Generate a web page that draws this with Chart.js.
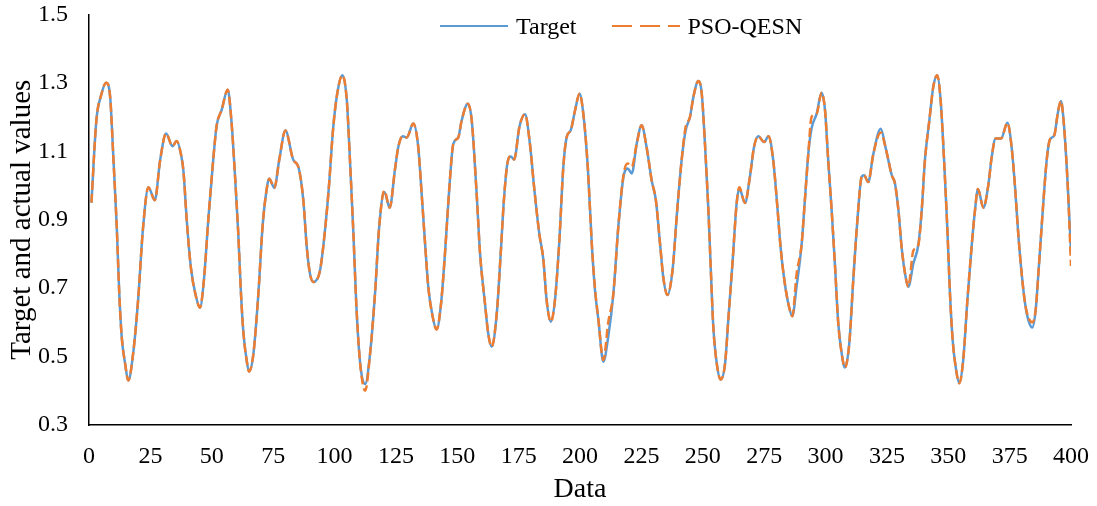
<!DOCTYPE html>
<html>
<head>
<meta charset="utf-8">
<script src="https://cdn.jsdelivr.net/npm/chart.js@4.4.1/dist/chart.umd.min.js"></script>
<style>
  html, body { margin: 0; padding: 0; background: #fff; }
  #wrap { position: relative; width: 1097px; height: 506px; }
  #legend {
    position: absolute; left: 440px; top: 14px;
    display: flex; align-items: center;
    font-family: 'Liberation Serif', 'Times New Roman', serif;
    font-size: 24px; line-height: 24px; color: #000;
  }
  #legend .item { display: flex; align-items: center; margin-right: 35px; }
  #legend .swatch { width: 68px; height: 2.5px; margin-right: 8px; }
</style>
</head>
<body>
<div id="wrap">
  <canvas id="chart" width="1097" height="506"></canvas>
  <div id="legend"></div>
</div>
<script>
// sample positions (x = data index)
const dataX = [
  1, 3, 5, 7, 8.6, 10, 11.3, 12.3, 13.3, 14.7, 16, 18, 20, 22, 24.2, 26.8, 29, 31.4, 34, 35.7,
  37.5, 38.5, 39.8, 41.5, 43.6, 45.2, 46.8, 48.6, 50.6, 52, 54, 56.5, 58, 59.5, 60.8, 61.9, 62.9, 64.2, 65.2, 67,
  69, 70.7, 72.1, 73.4, 75.5, 77.5, 80, 83.2, 85.3, 87.3, 88.7, 90, 91.4, 94, 95.4, 97.5, 99.5, 101.1, 103.2, 105,
  106.3, 107.7, 108.8, 110.1, 111.5, 112.5, 114.5, 116.5, 118.2, 120.3, 122.5, 124.6, 126, 127.8, 129.4, 132.1, 134.1, 135.5, 136.9, 138.2,
  140, 141.6, 143.4, 145, 146.8, 148.4, 150.4, 151.8, 154.3, 155.9, 157.9, 159.3, 161.3, 162.6, 164, 166.1, 167.7, 169, 170.4, 171.8,
  173.2, 175.3, 177.6, 179.6, 181.3, 183.4, 185.1, 186.4, 188.1, 189.8, 191.6, 193.2, 194.6, 196.2, 198, 199.8, 201.5, 203.2, 204.8, 206.1,
  207.5, 209.5, 211.5, 213.6, 215.6, 217.7, 219.4, 221.1, 223.1, 225.1, 227.1, 229.2, 230.9, 232.6, 233.9, 235.6, 237.7, 239.6, 241.4, 243,
  244.8, 246.2, 248.2, 249.6, 250.9, 252.3, 253.4, 254.3, 255.7, 257.3, 259.1, 260.4, 262.2, 263.8, 264.9, 267.2, 269.2, 270.9, 272.6, 275,
  276.8, 278.7, 280.4, 281.7, 283.3, 285, 286.5, 288.2, 290.3, 291.6, 293, 294.3, 296.4, 298.4, 299.8, 301.1, 302.5, 303.9, 305.2, 306.6,
  307.9, 309.7, 311.3, 313, 314.7, 315.7, 317.4, 319.5, 322.5, 324.5, 327, 328.3, 329.7, 331, 332.4, 333.7, 335.8, 337.8, 339.2, 340.5,
  342.3, 343.9, 345.5, 346.9, 348.3, 349.6, 350.7, 351.8, 353.2, 354.5, 356.1, 357.8, 359.5, 360.9, 362.1, 364.3, 366.3, 367.7, 369.3, 371.5,
  374.1, 375.8, 377.2, 378.5, 379.9, 381.3, 382.6, 384.2, 385.6, 386.9, 388.7, 390.1, 391.4, 393.2, 394.6, 395.9, 397.2, 398.7, 400
];

const targetValues = [
  0.95, 1.19, 1.265, 1.30, 1.26, 1.07, 0.88, 0.69, 0.56, 0.48, 0.43, 0.51, 0.665, 0.875, 0.995, 0.957, 1.075, 1.152, 1.115, 1.13,
  1.09, 1.04, 0.90, 0.76, 0.675, 0.643, 0.723, 0.90, 1.075, 1.175, 1.22, 1.28, 1.19, 1.025, 0.86, 0.685, 0.57, 0.49, 0.456, 0.51,
  0.685, 0.88, 0.975, 1.02, 0.993, 1.075, 1.161, 1.075, 1.054, 0.957, 0.82, 0.743, 0.718, 0.748, 0.82, 0.976, 1.171, 1.268, 1.322, 1.25,
  1.074, 0.86, 0.665, 0.509, 0.43, 0.42, 0.509, 0.684, 0.879, 0.981, 0.935, 1.045, 1.113, 1.144, 1.14, 1.181, 1.113, 0.976, 0.83, 0.704,
  0.616, 0.579, 0.655, 0.801, 0.996, 1.122, 1.14, 1.19, 1.239, 1.19, 0.976, 0.80, 0.655, 0.568, 0.529, 0.626, 0.801, 0.957, 1.064, 1.085,
  1.076, 1.171, 1.208, 1.122, 0.996, 0.86, 0.782, 0.665, 0.602, 0.665, 0.84, 1.054, 1.142, 1.161, 1.22, 1.268, 1.20, 1.05, 0.83, 0.694,
  0.607, 0.485, 0.558, 0.684, 0.879, 1.025, 1.05, 1.035, 1.122, 1.176, 1.113, 1.015, 0.957, 0.83, 0.733, 0.68, 0.753, 0.928, 1.074, 1.16,
  1.20, 1.259, 1.305, 1.268, 1.122, 0.928, 0.733, 0.587, 0.48, 0.433, 0.48, 0.607, 0.782, 0.947, 0.991, 0.949, 1.025, 1.113, 1.144, 1.127,
  1.144, 1.074, 0.937, 0.82, 0.72, 0.65, 0.618, 0.704, 0.83, 0.957, 1.093, 1.166, 1.21, 1.271, 1.22, 1.074, 0.928, 0.762, 0.597, 0.509,
  0.468, 0.539, 0.723, 0.899, 1.025, 1.03, 1.01, 1.093, 1.166, 1.11, 1.03, 1.006, 0.928, 0.82, 0.743, 0.704, 0.772, 0.826, 0.928, 1.074,
  1.19, 1.288, 1.322, 1.249, 1.074, 0.879, 0.684, 0.548, 0.461, 0.422, 0.49, 0.665, 0.82, 0.928, 0.99, 0.935, 1.0, 1.083, 1.137, 1.137,
  1.183, 1.113, 0.996, 0.86, 0.743, 0.655, 0.607, 0.585, 0.636, 0.762, 0.947, 1.074, 1.134, 1.147, 1.21, 1.247, 1.171, 0.996, 0.805
];

const psoValues = [
  0.95, 1.19, 1.265, 1.30, 1.26, 1.07, 0.88, 0.69, 0.56, 0.48, 0.43, 0.51, 0.665, 0.875, 0.995, 0.957, 1.075, 1.152, 1.115, 1.13,
  1.09, 1.04, 0.90, 0.76, 0.675, 0.643, 0.723, 0.90, 1.075, 1.175, 1.22, 1.28, 1.19, 1.025, 0.86, 0.685, 0.57, 0.49, 0.456, 0.51,
  0.685, 0.88, 0.975, 1.02, 0.993, 1.075, 1.161, 1.075, 1.054, 0.957, 0.82, 0.743, 0.718, 0.748, 0.82, 0.976, 1.171, 1.268, 1.322, 1.25,
  1.074, 0.86, 0.665, 0.509, 0.42, 0.40, 0.509, 0.684, 0.879, 0.985, 0.935, 1.045, 1.113, 1.144, 1.14, 1.181, 1.113, 0.976, 0.83, 0.704,
  0.616, 0.579, 0.655, 0.801, 0.996, 1.122, 1.14, 1.19, 1.239, 1.19, 0.976, 0.80, 0.655, 0.568, 0.529, 0.626, 0.801, 0.957, 1.064, 1.085,
  1.076, 1.171, 1.208, 1.122, 0.996, 0.86, 0.782, 0.665, 0.602, 0.665, 0.84, 1.054, 1.142, 1.161, 1.22, 1.268, 1.20, 1.05, 0.83, 0.70,
  0.607, 0.49, 0.60, 0.684, 0.879, 1.03, 1.064, 1.055, 1.122, 1.176, 1.113, 1.015, 0.957, 0.83, 0.733, 0.68, 0.753, 0.928, 1.074, 1.17,
  1.20, 1.259, 1.305, 1.268, 1.122, 0.928, 0.733, 0.587, 0.48, 0.433, 0.48, 0.607, 0.782, 0.947, 0.995, 0.949, 1.025, 1.113, 1.144, 1.127,
  1.144, 1.074, 0.937, 0.82, 0.72, 0.65, 0.618, 0.74, 0.83, 0.957, 1.093, 1.20, 1.21, 1.271, 1.22, 1.074, 0.928, 0.762, 0.597, 0.509,
  0.468, 0.539, 0.723, 0.899, 1.025, 1.03, 1.01, 1.093, 1.155, 1.11, 1.03, 1.006, 0.928, 0.82, 0.743, 0.704, 0.81, 0.826, 0.928, 1.074,
  1.19, 1.288, 1.322, 1.249, 1.074, 0.879, 0.684, 0.548, 0.461, 0.422, 0.49, 0.665, 0.82, 0.928, 0.99, 0.935, 1.0, 1.083, 1.137, 1.137,
  1.183, 1.113, 0.996, 0.86, 0.743, 0.655, 0.615, 0.60, 0.636, 0.762, 0.947, 1.074, 1.134, 1.147, 1.21, 1.247, 1.171, 0.996, 0.765
];

const xTicks = [0, 25, 50, 75, 100, 125, 150, 175, 200, 225, 250, 275, 300, 325, 350, 375, 400];
const yTicks = [0.3, 0.5, 0.7, 0.9, 1.1, 1.3, 1.5];

const seriesNames = ["Target", "PSO-QESN"];

function toPoints(values) {
  return values.map((v, i) => ({ x: dataX[i], y: v }));
}

// html legend placed inside the plot area, like the Excel original
const htmlLegend = {
  id: "htmlLegend",
  afterUpdate(chart) {
    const box = document.getElementById("legend");
    box.innerHTML = "";
    chart.data.datasets.forEach(ds => {
      const item = document.createElement("div");
      item.className = "item";
      const swatch = document.createElement("span");
      swatch.className = "swatch";
      if (ds.borderDash) {
        swatch.style.background = "repeating-linear-gradient(to right, " + ds.borderColor +
          " 0 20px, transparent 20px 28px)";
      } else {
        swatch.style.background = ds.borderColor;
      }
      const label = document.createElement("span");
      label.textContent = ds.label;
      item.appendChild(swatch);
      item.appendChild(label);
      box.appendChild(item);
    });
  }
};

const serif = "'Liberation Serif', 'Times New Roman', serif";

new Chart(document.getElementById("chart").getContext("2d"), {
  type: "line",
  data: {
    datasets: [
      {
        label: seriesNames[0],
        data: toPoints(targetValues),
        borderColor: "#5B9BD5",
        backgroundColor: "#5B9BD5",
        borderWidth: 2.5,
        pointRadius: 0,
        cubicInterpolationMode: "monotone",
        fill: false,
        order: 1
      },
      {
        label: seriesNames[1],
        data: toPoints(psoValues),
        borderColor: "#ED7D31",
        backgroundColor: "#ED7D31",
        borderWidth: 2.5,
        borderDash: [9, 4],
        pointRadius: 0,
        cubicInterpolationMode: "monotone",
        fill: false,
        order: 0
      }
    ]
  },
  options: {
    responsive: false,
    animation: false,
    layout: { padding: { top: 14, right: 26, bottom: 0, left: 0 } },
    plugins: {
      tooltip: { enabled: false },
      legend: { display: false }
    },
    scales: {
      x: {
        type: "linear",
        min: 0,
        max: 400,
        afterFit: (s) => { s.height = 81; },
        afterBuildTicks: (s) => { s.ticks = xTicks.map(v => ({ value: v })); },
        grid: { display: false, drawTicks: true, tickLength: 17 },
        border: { display: true, color: "#000", width: 1.5 },
        ticks: {
          color: "#000",
          padding: 0,
          maxRotation: 0,
          autoSkip: false,
          font: { family: serif, size: 24 },
          callback: (v) => String(v)
        },
        title: {
          display: true,
          text: "Data",
          color: "#000",
          padding: { top: 0, bottom: 0 },
          font: { family: serif, size: 28 }
        }
      },
      y: {
        min: 0.3,
        max: 1.5,
        afterFit: (s) => { s.width = 89; },
        afterBuildTicks: (s) => { s.ticks = yTicks.map(v => ({ value: v })); },
        grid: { display: false, drawTicks: true, tickLength: 21 },
        border: { display: true, color: "#000", width: 1.5 },
        ticks: {
          color: "#000",
          padding: 0,
          autoSkip: false,
          font: { family: serif, size: 24 },
          callback: (v) => Number(v).toFixed(1)
        },
        title: {
          display: true,
          text: "Target and actual values",
          color: "#000",
          padding: { top: 5, bottom: 0 },
          font: { family: serif, size: 29 }
        }
      }
    }
  },
  plugins: [htmlLegend]
});
</script>
</body>
</html>
